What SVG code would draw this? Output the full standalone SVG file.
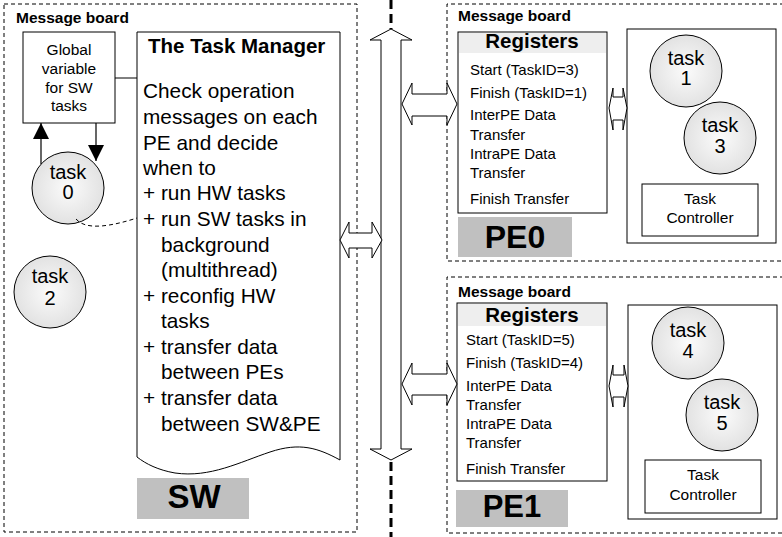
<svg xmlns="http://www.w3.org/2000/svg" width="782" height="537" viewBox="0 0 782 537">
<style>
text{font-family:"Liberation Sans",Arial,Helvetica,sans-serif;fill:#000}
.dash{fill:none;stroke:#000;stroke-width:1;stroke-dasharray:4 3}
.box{fill:#fff;stroke:#000;stroke-width:1}
.arr{fill:#fff;stroke:#000;stroke-width:1;stroke-linejoin:miter}
.mb{font-size:15.5px;font-weight:bold}
.body{font-size:20.8px}
.reg{font-size:15px}
.regh{font-size:20.5px;font-weight:bold}
.lbl{font-weight:bold;text-anchor:middle}
.task{font-size:20px;text-anchor:middle}
.small{font-size:15.5px;text-anchor:middle}
.circ{fill:url(#cg);stroke:#000;stroke-width:1}
.gray{fill:#c0c0c0}
</style>
<defs>
<radialGradient id="cg" cx="50%" cy="50%" r="50%">
<stop offset="0" stop-color="#fbfbfb"/>
<stop offset="1" stop-color="#e2e2e2"/>
</radialGradient>
<marker id="ah" viewBox="0 0 10 10" refX="10" refY="5" markerWidth="16" markerHeight="23" markerUnits="userSpaceOnUse" orient="auto">
<path d="M0,0 L10,5 L0,10 z" fill="#000"/>
</marker>
</defs>

<g id="sw-region">
<rect class="dash" x="4" y="4" width="353" height="528"/>
<text class="mb" x="16" y="23">Message board</text>
<rect class="gray" x="137" y="478" width="112" height="41"/>
<text class="lbl" x="194" y="508" font-size="33">SW</text>
</g>

<g id="global-var">
<rect class="box" x="23" y="32" width="92" height="91"/>
<text class="small" x="69" y="55">Global</text>
<text class="small" x="69" y="74">variable</text>
<text class="small" x="69" y="93">for SW</text>
<text class="small" x="69" y="111">tasks</text>
</g>

<g id="task-manager">
<path class="box" stroke="#222" d="M137,32 H340 V460 C318,448 300,442 270,452 C240,462 210,478 175,473 C158,470 146,464 137,457 Z"/>
<text x="148" y="53" font-size="20.5" font-weight="bold">The Task Manager</text>
<text class="body" x="143" y="98">Check operation</text>
<text class="body" x="143" y="124">messages on each</text>
<text class="body" x="143" y="150">PE and decide</text>
<text class="body" x="143" y="175">when to</text>
<text class="body" x="143" y="200">+ run HW tasks</text>
<text class="body" x="143" y="226">+ run SW tasks in</text>
<text class="body" x="161" y="252">background</text>
<text class="body" x="161" y="277">(multithread)</text>
<text class="body" x="143" y="303">+ reconfig HW</text>
<text class="body" x="161" y="328">tasks</text>
<text class="body" x="143" y="354">+ transfer data</text>
<text class="body" x="161" y="379">between PEs</text>
<text class="body" x="143" y="405">+ transfer data</text>
<text class="body" x="161" y="431">between SW&amp;PE</text>
</g>

<g id="task0">
<circle class="circ" cx="68" cy="188" r="36"/>
<text class="task" x="68" y="179">task</text>
<text class="task" x="68" y="199">0</text>
</g>

<g id="task2">
<circle class="circ" cx="50" cy="292" r="36"/>
<text class="task" x="50" y="283">task</text>
<text class="task" x="50" y="305">2</text>
</g>

<g id="pe0">
<path class="dash" d="M784,4 H447 V261 H784"/>
<text class="mb" x="458" y="21">Message board</text>
<rect class="gray" x="458" y="217" width="114" height="40"/>
<text class="lbl" x="515" y="248" font-size="32">PE0</text>
</g>
<g id="pe0-registers">
<rect class="box" x="458" y="32" width="149" height="181"/>
<rect x="459" y="33" width="147" height="20" fill="#eeeeee"/>
<text class="regh" x="532" y="48" text-anchor="middle">Registers</text>
<text class="reg" x="470" y="75">Start (TaskID=3)</text>
<text class="reg" x="470" y="98">Finish (TaskID=1)</text>
<text class="reg" x="470" y="120">InterPE Data</text>
<text class="reg" x="470" y="140">Transfer</text>
<text class="reg" x="470" y="159">IntraPE Data</text>
<text class="reg" x="470" y="178">Transfer</text>
<text class="reg" x="470" y="204">Finish Transfer</text>
</g>
<g id="pe0-tasks">
<rect class="box" x="627" y="29" width="149" height="214"/>
<rect class="box" x="642" y="184" width="116" height="52"/>
<text class="small" x="700" y="204">Task</text>
<text class="small" x="700" y="223">Controller</text>
</g>
<g id="task1">
<circle class="circ" cx="686" cy="71" r="36"/>
<text class="task" x="686" y="65">task</text>
<text class="task" x="686" y="85">1</text>
</g>
<g id="task3">
<circle class="circ" cx="720" cy="138" r="36"/>
<text class="task" x="720" y="132">task</text>
<text class="task" x="720" y="153">3</text>
</g>

<g id="pe1">
<path class="dash" d="M784,277 H447 V533 H784"/>
<text class="mb" x="458" y="297">Message board</text>
<rect class="gray" x="456" y="490" width="112" height="37"/>
<text class="lbl" x="512" y="517" font-size="31">PE1</text>
</g>
<g id="pe1-registers">
<rect class="box" x="457" y="303" width="150" height="178"/>
<rect x="458" y="304" width="148" height="22" fill="#eeeeee"/>
<text class="regh" x="532" y="322" text-anchor="middle">Registers</text>
<text class="reg" x="466" y="345">Start (TaskID=5)</text>
<text class="reg" x="466" y="368">Finish (TaskID=4)</text>
<text class="reg" x="466" y="391">InterPE Data</text>
<text class="reg" x="466" y="410">Transfer</text>
<text class="reg" x="466" y="429">IntraPE Data</text>
<text class="reg" x="466" y="448">Transfer</text>
<text class="reg" x="466" y="474">Finish Transfer</text>
</g>
<g id="pe1-tasks">
<rect class="box" x="628" y="305" width="149" height="214"/>
<rect class="box" x="645" y="460" width="116" height="53"/>
<text class="small" x="703" y="480">Task</text>
<text class="small" x="703" y="500">Controller</text>
</g>
<g id="task4">
<circle class="circ" cx="688" cy="343" r="36"/>
<text class="task" x="688" y="337">task</text>
<text class="task" x="688" y="358">4</text>
</g>
<g id="task5">
<circle class="circ" cx="722" cy="415" r="36"/>
<text class="task" x="722" y="409">task</text>
<text class="task" x="722" y="430">5</text>
</g>

<g id="connectors">
<line x1="391" y1="0" x2="391" y2="29" stroke="#000" stroke-width="3" stroke-dasharray="9 5"/>
<line x1="391" y1="462" x2="391" y2="537" stroke="#000" stroke-width="3" stroke-dasharray="9 5"/>
<polygon class="arr" points="391,29 412,40 401,40 401,449 412,449 391,460 370,449 381,449 381,40 370,40"/>
<polygon class="arr" points="340,240 349,222 349,233 372,233 372,222 382,240 372,258 372,248 349,248 349,258"/>
<polygon class="arr" points="402,104 412,83 412,94 447,94 447,83 457,104 447,125 447,116 412,116 412,125"/>
<polygon class="arr" points="402,384 412,363 412,374 447,374 447,363 457,384 447,405 447,395 412,395 412,405"/>
<polygon class="arr" points="609,108 613,88 613,97 623,97 623,88 627,108 623,130 623,120 613,120 613,130"/>
<polygon class="arr" points="609,386 613,365 613,375 624,375 624,365 628,386 624,407 624,397 613,397 613,407"/>
<line x1="115" y1="78" x2="137" y2="78" stroke="#000" stroke-width="1"/>
<line x1="41" y1="164" x2="41" y2="123" stroke="#000" stroke-width="1.2" marker-end="url(#ah)"/>
<line x1="96" y1="123" x2="96" y2="161" stroke="#000" stroke-width="1.2" marker-end="url(#ah)"/>
<path d="M76,219 C86,231 112,226 137,218" fill="none" stroke="#000" stroke-width="1" stroke-dasharray="4 3"/>
</g>
</svg>
